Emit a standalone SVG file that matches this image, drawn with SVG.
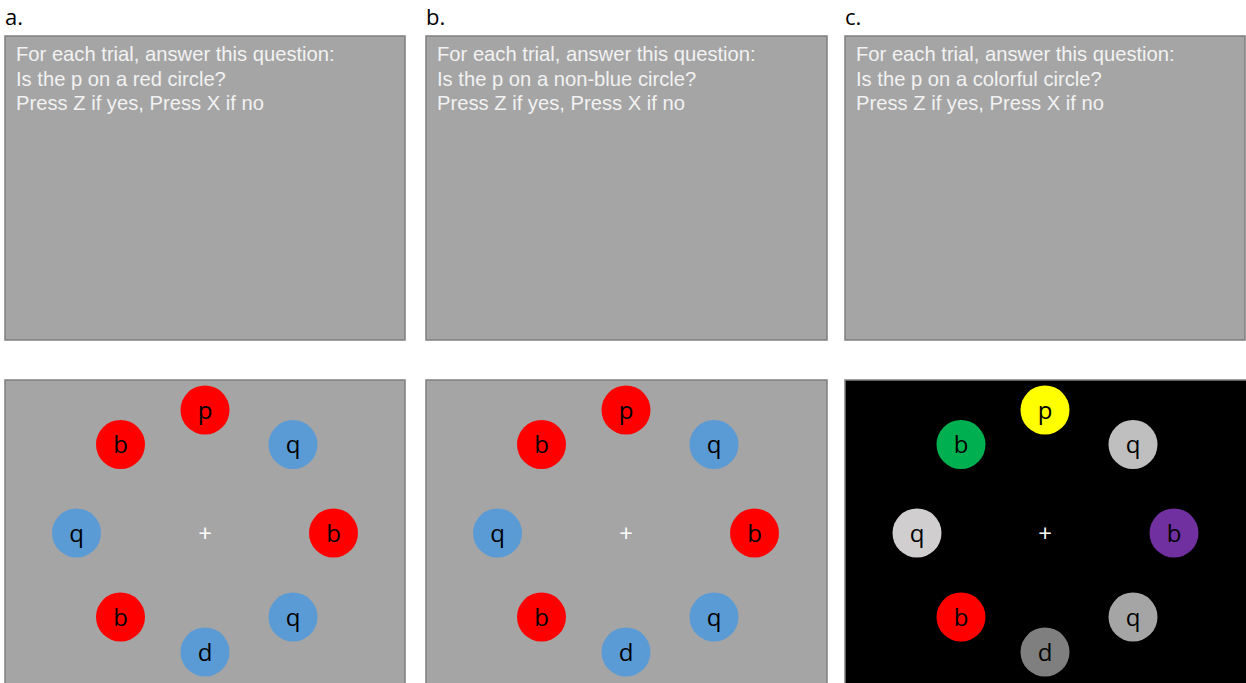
<svg xmlns="http://www.w3.org/2000/svg" width="1246" height="683" viewBox="0 0 1246 683">
<style>
.lbl{font-family:"Open Sans","Noto Sans",sans-serif;font-size:22px;fill:#000}
.inst{font-family:"Liberation Sans",Arial,sans-serif;font-size:20.2px;fill:#f2f2f2}
.panel{fill:#a5a5a5;stroke:#7f7f7f;stroke-width:1.5}
.dark{fill:#000;stroke:#7f7f7f;stroke-width:1.5}
.ch{font-family:"Open Sans","Noto Sans",sans-serif;font-size:24px;fill:#000;text-anchor:middle}
.fix{font-family:"Open Sans","Noto Sans",sans-serif;font-size:24px;fill:#fff;text-anchor:middle}
.red{fill:#ff0000}.blue{fill:#5b9bd5}
</style>
<rect width="1246" height="683" fill="#fff"/>
<g id="panel-a">
<text class="lbl" x="5" y="25">a.</text>
<rect class="panel" x="5" y="36" width="400" height="304"/>
<text class="inst" x="16" y="61">For each trial, answer this question:</text>
<text class="inst" x="16" y="85.5">Is the p on a red circle?</text>
<text class="inst" x="16" y="110">Press Z if yes, Press X if no</text>
<rect class="panel" x="5" y="380" width="400" height="310"/>
<circle class="red" cx="205" cy="410" r="24.5"/><text class="ch" x="205" y="418.5">p</text>
<circle class="red" cx="120.5" cy="444.5" r="24.5"/><text class="ch" x="120.5" y="453">b</text>
<circle class="blue" cx="293" cy="444.5" r="24.5"/><text class="ch" x="293" y="453">q</text>
<circle class="blue" cx="76.5" cy="533" r="24.5"/><text class="ch" x="76.5" y="541.5">q</text>
<circle class="red" cx="333.5" cy="533" r="24.5"/><text class="ch" x="333.5" y="541.5">b</text>
<circle class="red" cx="120.5" cy="617" r="24.5"/><text class="ch" x="120.5" y="625.5">b</text>
<circle class="blue" cx="293" cy="617" r="24.5"/><text class="ch" x="293" y="625.5">q</text>
<circle class="blue" cx="205" cy="652" r="24.5"/><text class="ch" x="205" y="660.5">d</text>
<text class="fix" x="205" y="542">+</text>
</g>
<g id="panel-b">
<text class="lbl" x="426" y="25">b.</text>
<rect class="panel" x="426" y="36" width="401" height="304"/>
<text class="inst" x="437" y="61">For each trial, answer this question:</text>
<text class="inst" x="437" y="85.5">Is the p on a non-blue circle?</text>
<text class="inst" x="437" y="110">Press Z if yes, Press X if no</text>
<rect class="panel" x="426" y="380" width="401" height="310"/>
<circle class="red" cx="626" cy="410" r="24.5"/><text class="ch" x="626" y="418.5">p</text>
<circle class="red" cx="541.5" cy="444.5" r="24.5"/><text class="ch" x="541.5" y="453">b</text>
<circle class="blue" cx="714" cy="444.5" r="24.5"/><text class="ch" x="714" y="453">q</text>
<circle class="blue" cx="497.5" cy="533" r="24.5"/><text class="ch" x="497.5" y="541.5">q</text>
<circle class="red" cx="754.5" cy="533" r="24.5"/><text class="ch" x="754.5" y="541.5">b</text>
<circle class="red" cx="541.5" cy="617" r="24.5"/><text class="ch" x="541.5" y="625.5">b</text>
<circle class="blue" cx="714" cy="617" r="24.5"/><text class="ch" x="714" y="625.5">q</text>
<circle class="blue" cx="626" cy="652" r="24.5"/><text class="ch" x="626" y="660.5">d</text>
<text class="fix" x="626" y="542">+</text>
</g>
<g id="panel-c">
<text class="lbl" x="845" y="25">c.</text>
<rect class="panel" x="845" y="36" width="400" height="304"/>
<text class="inst" x="856" y="61">For each trial, answer this question:</text>
<text class="inst" x="856" y="85.5">Is the p on a colorful circle?</text>
<text class="inst" x="856" y="110">Press Z if yes, Press X if no</text>
<rect class="dark" x="845" y="380" width="402" height="310"/>
<circle fill="#ffff00" cx="1045" cy="410" r="24.5"/><text class="ch" x="1045" y="418.5">p</text>
<circle fill="#00b050" cx="961" cy="444.5" r="24.5"/><text class="ch" x="961" y="453">b</text>
<circle fill="#bfbfbf" cx="1133" cy="444.5" r="24.5"/><text class="ch" x="1133" y="453">q</text>
<circle fill="#d0cece" cx="917" cy="533" r="24.5"/><text class="ch" x="917" y="541.5">q</text>
<circle fill="#7030a0" cx="1174" cy="533" r="24.5"/><text class="ch" x="1174" y="541.5">b</text>
<circle fill="#ff0000" cx="961" cy="617" r="24.5"/><text class="ch" x="961" y="625.5">b</text>
<circle fill="#a5a5a5" cx="1133" cy="617" r="24.5"/><text class="ch" x="1133" y="625.5">q</text>
<circle fill="#7f7f7f" cx="1045" cy="652" r="24.5"/><text class="ch" x="1045" y="660.5">d</text>
<text class="fix" x="1045" y="542">+</text>
</g>
</svg>
